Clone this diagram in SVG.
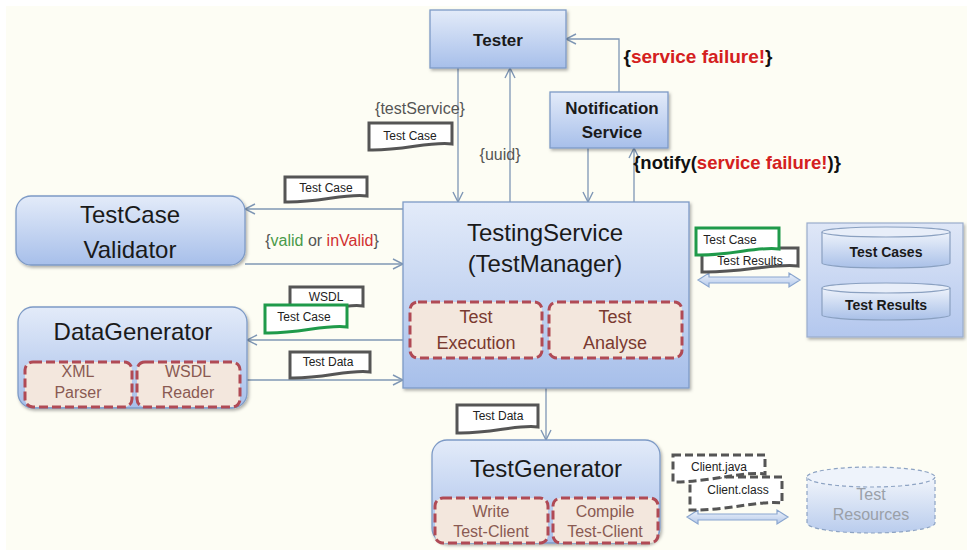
<svg xmlns="http://www.w3.org/2000/svg" width="967" height="550" viewBox="0 0 967 550">
<defs>
<linearGradient id="gBlue" x1="0" y1="0" x2="0" y2="1"><stop offset="0" stop-color="#e3ebf9"/><stop offset="1" stop-color="#a7bfea"/></linearGradient>
<linearGradient id="gStore" x1="0" y1="0" x2="0" y2="1"><stop offset="0" stop-color="#dfe7f7"/><stop offset="1" stop-color="#b3c7ee"/></linearGradient>
<linearGradient id="gCyl" x1="0" y1="0" x2="0" y2="1"><stop offset="0" stop-color="#eef3fb"/><stop offset="1" stop-color="#a9c0e8"/></linearGradient>
<linearGradient id="gRes" x1="0" y1="0" x2="0" y2="1"><stop offset="0" stop-color="#f1f5fb"/><stop offset="1" stop-color="#b9cced"/></linearGradient>
<linearGradient id="gArr" x1="0" y1="0" x2="0" y2="1"><stop offset="0" stop-color="#eef3fb"/><stop offset="1" stop-color="#b3c8ea"/></linearGradient>
<filter id="sh" x="-10%" y="-10%" width="120%" height="130%"><feDropShadow dx="1.5" dy="2" stdDeviation="1.5" flood-color="#000" flood-opacity="0.3"/></filter>
<marker id="arr" viewBox="0 0 12 12" refX="11" refY="6" markerWidth="12" markerHeight="12" markerUnits="userSpaceOnUse" orient="auto"><path d="M1,1 L11,6 L1,11" fill="none" stroke="#7f97b5" stroke-width="1.4"/></marker>
<style>
.node{fill:url(#gBlue);stroke:#7d9ac6;stroke-width:1.3;filter:url(#sh)}
.sub{fill:#f3e7dd;stroke:#b04a55;stroke-width:3;stroke-dasharray:9 4}
.t{font-family:"Liberation Sans",Arial,sans-serif;fill:#1a1a1a;text-anchor:middle}
.big{font-size:24px}
.bold{font-weight:bold;font-size:17px}
.subt{font-size:18px;fill:#7a3a30}
.subs{font-size:16px;fill:#8a5a52}
.lbl{font-family:"Liberation Sans",Arial,sans-serif;font-size:16px;fill:#555}
.doc{fill:#fff;stroke:#555;stroke-width:3}
.docg{fill:#fff;stroke:#1f9a4a;stroke-width:3}
.docd{fill:#fff;stroke:#555;stroke-width:3;stroke-dasharray:8 4}
.dt{font-family:"Liberation Sans",Arial,sans-serif;font-size:12px;fill:#222;text-anchor:middle}
.con{fill:none;stroke:#7f97b5;stroke-width:1.3;marker-end:url(#arr)}
.red{fill:#d42020}
.dbl{fill:url(#gArr);stroke:#8aa6cf;stroke-width:1.2}
</style>
</defs>
<rect x="0" y="0" width="967" height="550" fill="#ffffff"/>
<rect x="6" y="6" width="961" height="544" fill="#fdfdf4"/>

<g id="connectors">
<path class="con" d="M458,68 V202"/>
<path class="con" d="M510,202 V68"/>
<path class="con" d="M588,148 V202"/>
<path class="con" d="M634,202 V148"/>
<path class="con" d="M619,92 V39 H566"/>
<path class="con" d="M403,209 H245"/>
<path class="con" d="M245,264 H403"/>
<path class="con" d="M403,340 H247"/>
<path class="con" d="M247,380 H403"/>
<path class="con" d="M546,388 V440"/>
<polygon class="dbl" points="698,280 709,273 709,277 789,277 789,273 800,280 789,287 789,283 709,283 709,287"/>
<polygon class="dbl" points="687,517 698,510 698,514 777,514 777,510 788,517 777,524 777,520 698,520 698,524"/>
</g>

<g id="tester">
<rect class="node" x="430" y="10" width="136" height="58"/>
<text class="t bold" x="498" y="46">Tester</text>
</g>

<g id="notification">
<rect class="node" x="550" y="92" width="118" height="56"/>
<text class="t bold" x="612" y="114">Notification</text>
<text class="t bold" x="612" y="138">Service</text>
</g>

<g id="validator">
<rect class="node" x="16" y="196" width="229" height="69" rx="15"/>
<text class="t big" x="130" y="223">TestCase</text>
<text class="t big" x="130" y="258">Validator</text>
</g>

<g id="datagenerator">
<rect class="node" x="18" y="307" width="229" height="101" rx="15"/>
<text class="t big" x="133" y="340">DataGenerator</text>
<rect class="sub" x="25" y="362" width="107" height="45" rx="8"/>
<rect class="sub" x="137" y="362" width="103" height="45" rx="8"/>
<text class="t subs" x="78" y="377">XML</text>
<text class="t subs" x="78" y="398">Parser</text>
<text class="t subs" x="188" y="377">WSDL</text>
<text class="t subs" x="188" y="398">Reader</text>
</g>

<g id="testingservice">
<rect class="node" x="403" y="202" width="286" height="186"/>
<text class="t big" x="545" y="241">TestingService</text>
<text class="t big" x="545" y="272">(TestManager)</text>
<rect class="sub" x="410" y="302" width="132" height="56" rx="8"/>
<rect class="sub" x="549" y="302" width="133" height="56" rx="8"/>
<text class="t subt" x="476" y="323">Test</text>
<text class="t subt" x="476" y="349">Execution</text>
<text class="t subt" x="615" y="323">Test</text>
<text class="t subt" x="615" y="349">Analyse</text>
</g>

<g id="testgenerator">
<rect class="node" x="432" y="440" width="228" height="103" rx="15"/>
<text class="t big" x="546" y="477">TestGenerator</text>
<rect class="sub" x="435" y="498" width="113" height="45" rx="8"/>
<rect class="sub" x="553" y="498" width="105" height="45" rx="8"/>
<text class="t subs" x="491" y="517">Write</text>
<text class="t subs" x="491" y="537">Test-Client</text>
<text class="t subs" x="605" y="517">Compile</text>
<text class="t subs" x="605" y="537">Test-Client</text>
</g>

<g id="storage">
<rect x="807" y="223" width="156" height="114" fill="url(#gStore)" stroke="#9aaccc" stroke-width="1.2" filter="url(#sh)"/>
<g id="testcases">
<path d="M822,232 V263 A64,5 0 0 0 950,263 V232" fill="url(#gCyl)" stroke="#8aa0c0" stroke-width="1.2"/>
<ellipse cx="886" cy="232" rx="64" ry="5" fill="#e8eef9" stroke="#8aa0c0" stroke-width="1.2"/>
<text class="t" x="886" y="257" style="font-size:14px;font-weight:bold">Test Cases</text>
</g>
<g id="testresults">
<path d="M822,288 V315 A64,5 0 0 0 950,315 V288" fill="url(#gCyl)" stroke="#8aa0c0" stroke-width="1.2"/>
<ellipse cx="886" cy="288" rx="64" ry="5" fill="#e8eef9" stroke="#8aa0c0" stroke-width="1.2"/>
<text class="t" x="886" y="310" style="font-size:14px;font-weight:bold">Test Results</text>
</g>
</g>

<g id="testresources">
<path d="M807,477 V523 A64,10 0 0 0 935,523 V477" fill="url(#gRes)" stroke="#8da3c3" stroke-width="1.2" stroke-dasharray="4 3"/>
<ellipse cx="871" cy="477" rx="64" ry="10" fill="#eef3fb" stroke="#8da3c3" stroke-width="1.2" stroke-dasharray="4 3"/>
<text class="t" x="871" y="500" style="font-size:16px;fill:#9aa0a8">Test</text>
<text class="t" x="871" y="520" style="font-size:16px;fill:#9aa0a8">Resources</text>
</g>

<g id="labels">
<text class="lbl" x="420" y="114" text-anchor="middle">{testService}</text>
<path class="doc" d="M369,123 H452 V144 C431,141 402,151 369,150 Z"/>
<text class="dt" x="410" y="140">Test Case</text>
<text class="lbl" x="500" y="160" text-anchor="middle">{uuid}</text>
<text x="698" y="63" text-anchor="middle" style="font-family:'Liberation Sans',Arial,sans-serif;font-size:19px;font-weight:bold;fill:#111">{<tspan class="red">service failure!</tspan>}</text>
<text x="737" y="169" text-anchor="middle" style="font-family:'Liberation Sans',Arial,sans-serif;font-size:18.5px;font-weight:bold;fill:#111">{notify(<tspan class="red">service failure!</tspan>)}</text>
<path class="doc" d="M285,177 H367 V196 C346,193 318,203 285,202 Z"/>
<text class="dt" x="326" y="192">Test Case</text>
<text class="lbl" x="322" y="246" text-anchor="middle">{<tspan fill="#4a9a4a">valid</tspan> or <tspan fill="#d03030">inValid</tspan>}</text>
<path class="doc" d="M290,287 H363 V306 C345,303 320,313 290,312 Z"/>
<text class="dt" x="326" y="301">WSDL</text>
<path class="docg" d="M265,305 H347 V327 C326,324 298,334 265,333 Z"/>
<text class="dt" x="304" y="321">Test Case</text>
<path class="doc" d="M290,352 H370 V372 C350,369 322,379 290,378 Z"/>
<text class="dt" x="328" y="366">Test Data</text>
<path class="doc" d="M457,405 H538 V427 C518,424 490,434 457,433 Z"/>
<text class="dt" x="498" y="420">Test Data</text>
<path class="doc" d="M702,248 H798 V266 C774,263 740,273 702,272 Z"/>
<text class="dt" x="750" y="265">Test Results</text>
<path class="docg" d="M696,228 H779 V249 C758,246 730,256 696,255 Z"/>
<text class="dt" x="730" y="244">Test Case</text>
<path class="docd" d="M690,477 H782 V503 C760,500 726,511 690,510 Z"/>
<text class="dt" x="738" y="494">Client.class</text>
<path class="docd" d="M673,455 H765 V474 C743,471 710,482 673,482 Z"/>
<text class="dt" x="719" y="471">Client.java</text>
</g>
</svg>
